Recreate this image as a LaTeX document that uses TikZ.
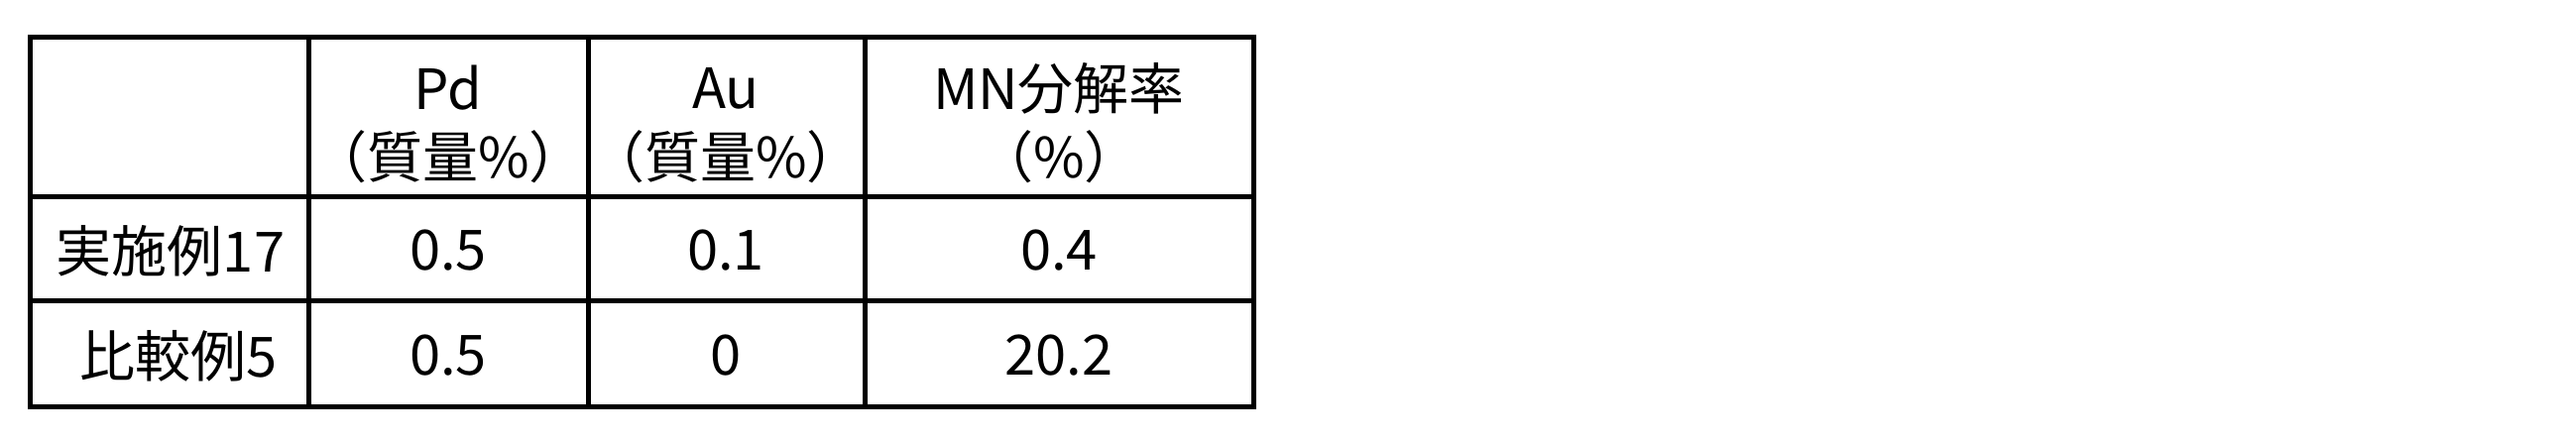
\documentclass[tikz,border=0pt]{standalone}
\usepackage{fontspec}
\setmainfont{Noto Sans CJK JP}
\begin{document}
\begin{tikzpicture}[x=1pt,y=-1pt,
  grid/.style={line width=5pt},
  txt/.style={font=\fontsize{56}{60}\selectfont,inner sep=0pt,anchor=center}]
\useasboundingbox (0,0) rectangle (2598,445);
\draw[grid] (30,37) rectangle (1264,410);
\draw[grid] (30,198) -- (1264,198);
\draw[grid] (30,303) -- (1264,303);
\draw[grid] (311,37) -- (311,410);
\draw[grid] (593,37) -- (593,410);
\draw[grid] (872,37) -- (872,410);
\node[txt] (h1a) at (452,89) {Pd};
\node[txt] (h1b) at (452,158) {（質量\%）};
\node[txt] (h2a) at (732,89) {Au};
\node[txt] (h2b) at (732,158) {（質量\%）};
\node[txt] (h3a) at (1068,89) {MN分解率};
\node[txt] (h3b) at (1068,158) {（\%）};
\node[txt] (r1) at (172,253) {実施例17};
\node[txt] (r2) at (180,359) {比較例5};
\node[txt] (a1) at (452,253) {0.5};
\node[txt] (b1) at (732,253) {0.1};
\node[txt] (c1) at (1068,253) {0.4};
\node[txt] (a2) at (452,359) {0.5};
\node[txt] (b2) at (732,359) {0};
\node[txt] (c2) at (1068,359) {20.2};
\end{tikzpicture}
\end{document}
